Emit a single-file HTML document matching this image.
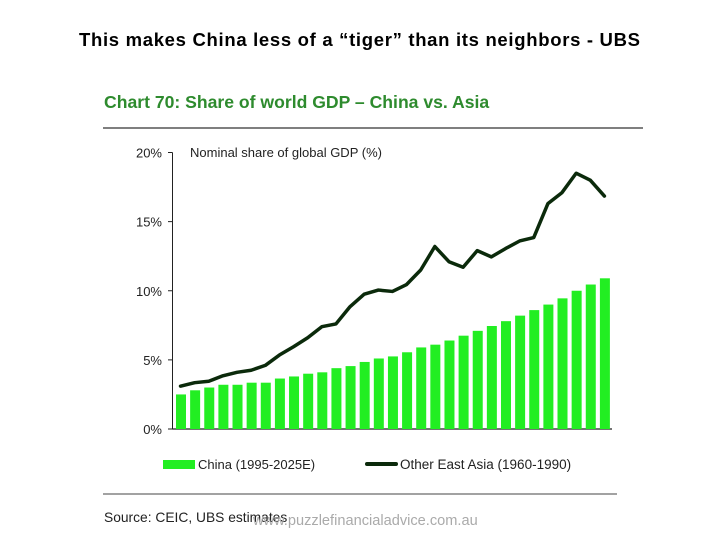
<!DOCTYPE html>
<html><head><meta charset="utf-8"><style>
body{margin:0;background:#fff;width:720px;height:540px;overflow:hidden;font-family:"Liberation Sans",sans-serif}
</style></head><body>
<svg width="720" height="540" id="svg" font-family="Liberation Sans, sans-serif">
<text x="79" y="46" font-size="18.5" font-weight="bold" textLength="561" lengthAdjust="spacing" fill="#000">This makes China less of a “tiger” than its neighbors - UBS</text>
<text x="104" y="108" font-size="17.6" font-weight="bold" fill="#2e8b2e">Chart 70: Share of world GDP – China vs. Asia</text>
<line x1="103" y1="128" x2="643" y2="128" stroke="#555" stroke-width="1.5"/>
<text x="190" y="157" font-size="13" fill="#222">Nominal share of global GDP (%)</text>
<g id="yaxis"></g>
<g id="bars"></g>
<g id="line"></g>
<rect x="163" y="460" width="32" height="9" fill="#22ee22"/>
<text x="198" y="469" font-size="13" fill="#222">China (1995-2025E)</text>
<line x1="367" y1="464" x2="396" y2="464" stroke="#0b2a0b" stroke-width="4" stroke-linecap="round"/>
<text x="400" y="469" font-size="13.5" fill="#222">Other East Asia (1960-1990)</text>
<line x1="103" y1="494" x2="617" y2="494" stroke="#444" stroke-width="1"/>
<text x="104" y="522" font-size="13.8" fill="#222">Source: CEIC, UBS estimates</text>
<text x="253" y="525" font-size="14.6" fill="#aaa">www.puzzlefinancialadvice.com.au</text>
</svg>
<script>
const yTicks=[0,5,10,15,20];
const tickLabels=["0%","5%","10%","15%","20%"];
const chinaValues=[2.5,2.8,3.0,3.2,3.2,3.35,3.35,3.65,3.8,4.0,4.1,4.4,4.55,4.85,5.1,5.25,5.55,5.9,6.1,6.4,6.75,7.1,7.45,7.8,8.2,8.6,9.0,9.45,10.0,10.45,10.9];
const asiaValues=[3.1,3.35,3.45,3.85,4.1,4.25,4.6,5.35,5.95,6.6,7.4,7.6,8.85,9.75,10.05,9.95,10.45,11.5,13.2,12.1,11.7,12.9,12.45,13.05,13.6,13.85,16.3,17.1,18.5,18.0,16.85];
const NS='http://www.w3.org/2000/svg';
const y0=429,yTop=152.5,x0=176,pitch=14.13,bw=10;
const y=v=>y0-(v/20)*(y0-yTop);
const x=i=>x0+i*pitch;
function mk(t,a,p){const e=document.createElementNS(NS,t);for(const k in a)e.setAttribute(k,a[k]);p.appendChild(e);return e;}
const ya=document.getElementById('yaxis');
const ax=mk('line',{x1:172.5,y1:yTop,x2:172.5,y2:y0,stroke:'#222','stroke-width':1},ya);


const bl=mk('line',{x1:172.5,y1:y0,x2:612,y2:y0,stroke:'#222','stroke-width':1.2},ya);


yTicks.forEach((t,i)=>{
 const tk=mk('line',{x1:168,y1:y(t),x2:172.5,y2:y(t),stroke:'#222'},ya);
 
 
 const tx=mk('text',{x:162,y:y(t)+5,'text-anchor':'end','font-size':13,fill:'#222'},ya);
 tx.textContent=tickLabels[i];
 
 
});
const bg=document.getElementById('bars');
chinaValues.forEach((v,i)=>{
 const r=mk('rect',{x:x(i),y:y(v),width:bw,height:y0-y(v),fill:'#22ee22'},bg);
 
 
});
const pts=asiaValues.map((v,i)=>(x(i)+bw/2-0.5)+','+y(v)).join(' ');
const pl=mk('polyline',{points:pts,fill:'none',stroke:'#0b2a0b','stroke-width':3.5,'stroke-linejoin':'round','stroke-linecap':'round'},document.getElementById('line'));


</script>
</body></html>
